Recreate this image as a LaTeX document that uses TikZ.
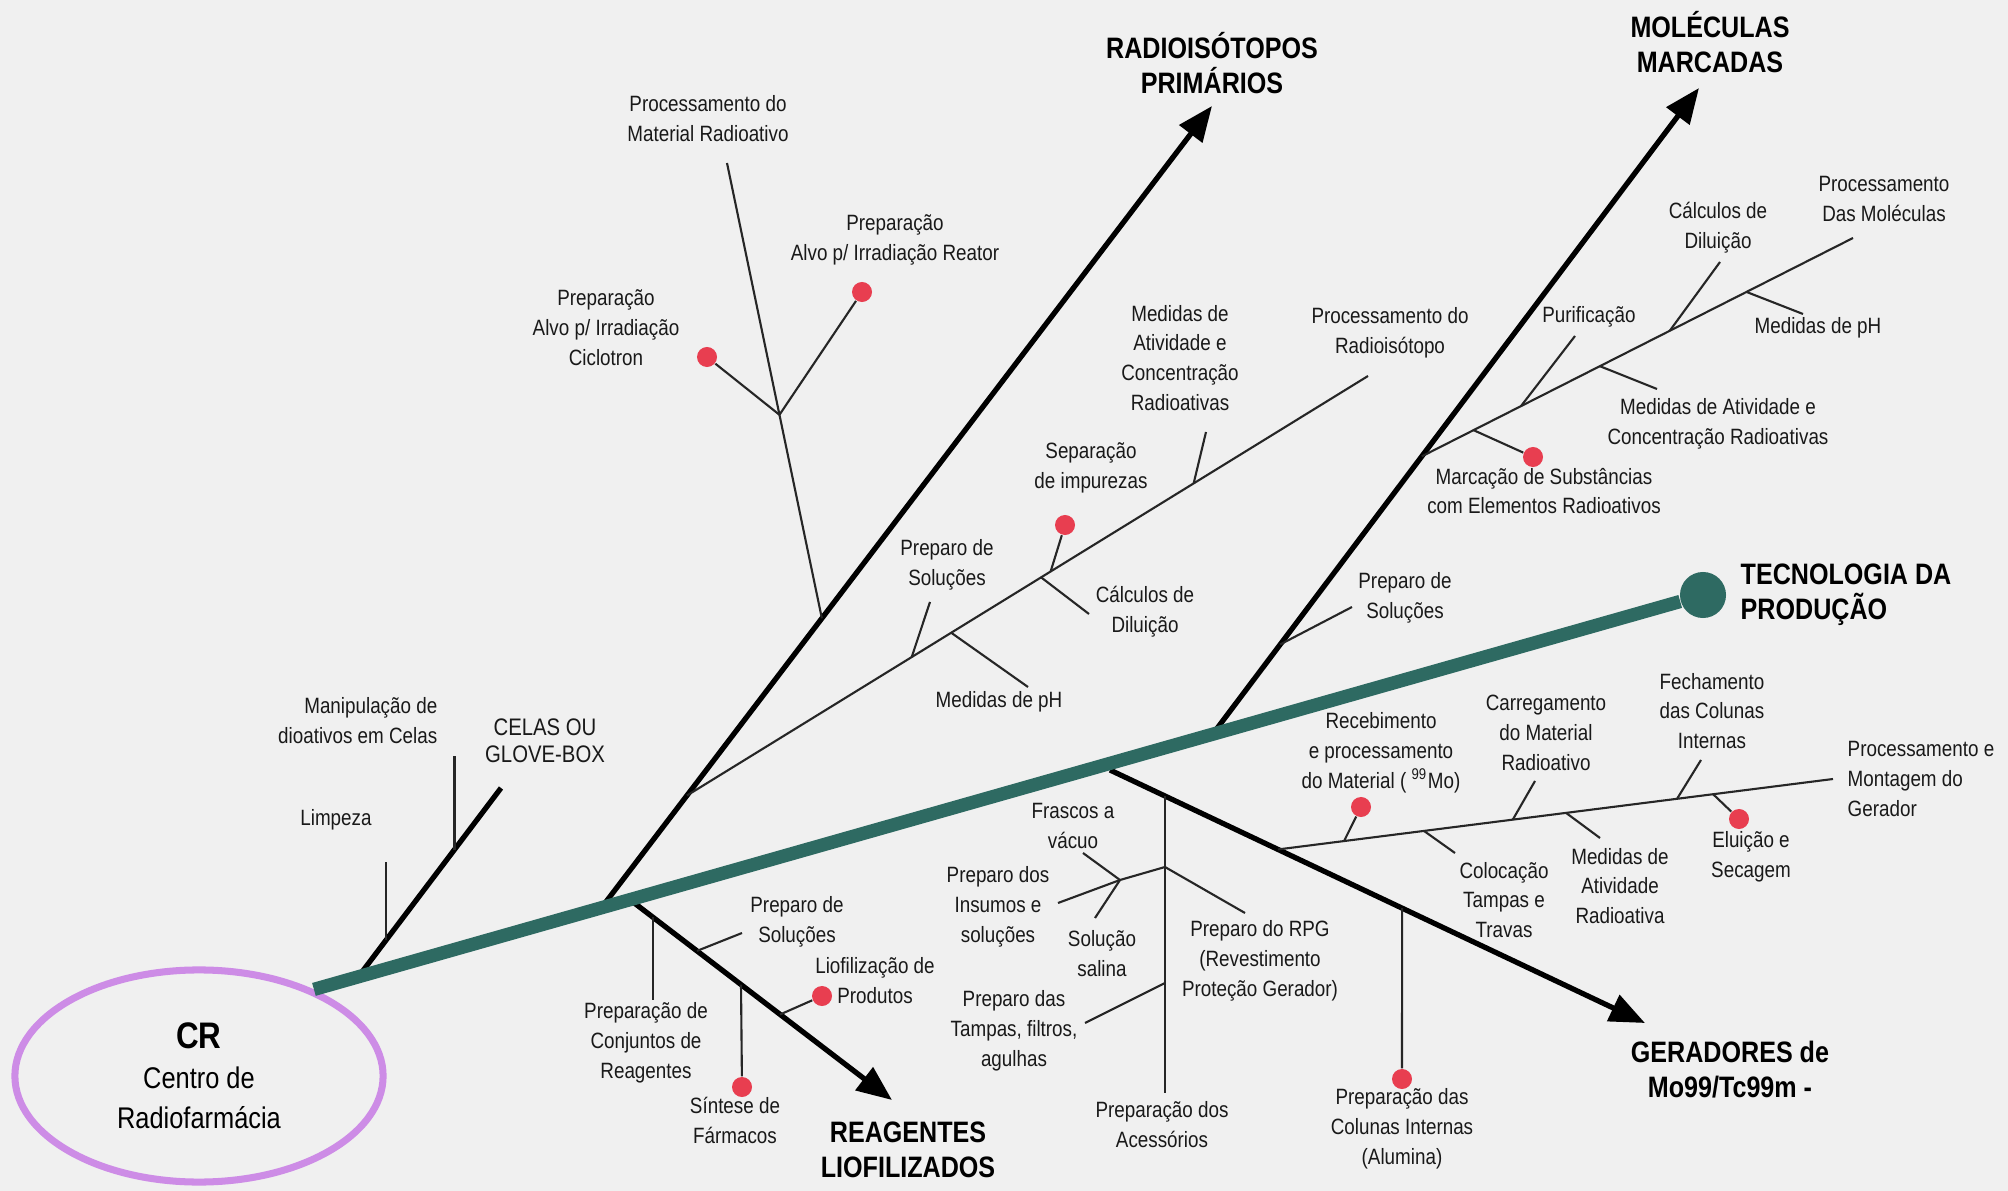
\documentclass[tikz,border=0pt]{standalone}
\usepackage{fontspec}
\setmainfont[FakeStretch=0.85]{Liberation Sans}
\usepackage{tikz}
\usetikzlibrary{arrows.meta,calc,shapes.geometric}

\definecolor{fundo}{RGB}{240,240,240}
\definecolor{espinha}{RGB}{46,106,98}
\definecolor{elipse}{RGB}{205,140,230}
\definecolor{ponto}{RGB}{232,62,80}

\tikzset{
  rotulo/.style={font=\fontsize{6.3}{8.5}\selectfont, align=center, inner sep=0pt, text=black!90},
  titulo/.style={font=\bfseries\fontsize{8.4}{10}\selectfont, align=center, inner sep=0pt},
  fino/.style={line width=0.6pt, black!85},
  ramo/.style={line width=1.5pt},
  seta/.style={line width=1.5pt, -{Triangle[length=10pt,width=8pt]}},
  marca/.style={circle, fill=ponto, inner sep=0pt, minimum size=0.2cm},
}

\begin{document}
\begin{tikzpicture}[x=0.01cm,y=-0.01cm]
\fill[fundo] (0,0) rectangle (2008,1191);
\useasboundingbox (0,0) rectangle (2008,1191);

\node[ellipse, draw=elipse, line width=2pt, minimum width=3.68cm, minimum height=2.12cm, inner sep=0pt, align=center, font=\fontsize{8.5}{11.4}\selectfont] (cr) at (199,1076) {{\bfseries\fontsize{10.5}{11.4}\selectfont CR}\\Centro de\\Radiofarmácia};
\node[circle, fill=espinha, minimum size=0.46cm, inner sep=0pt] (fim) at (1703,595) {};
\coordinate (sp0) at (cr.37);

\coordinate (ce0) at ($(sp0)!0.032!(fim)$);
\coordinate (ri0) at ($(sp0)!0.207!(fim)$);
\coordinate (mm0) at ($(sp0)!0.647!(fim)$);
\coordinate (re0) at (633,902);
\coordinate (ge0) at (1110,770);
\coordinate (cetop) at (501,788);
\coordinate (ritip) at (1212,106);
\coordinate (mmtip) at (1699,88);
\coordinate (retip) at (892,1100);
\coordinate (getip) at (1645,1023);

\node[titulo] (hrad) at (1212,63) {RADIOISÓTOPOS\\PRIMÁRIOS};
\node[titulo] (hmol) at (1710,42) {MOLÉCULAS\\MARCADAS};
\node[titulo, anchor=west, align=left] (htec) at (1740,595) {TECNOLOGIA DA\\PRODUÇÃO};
\node[titulo] (hger) at (1730,1070) {GERADORES de\\Mo99/Tc99m -};
\node[titulo] (hrea) at (908,1150) {REAGENTES\\LIOFILIZADOS};
\node[rotulo, font=\fontsize{6.8}{7.8}\selectfont] (hcel) at (545,741) {CELAS OU\\GLOVE-BOX};

% celas ou glove-box
\draw[ramo] (ce0) -- (cetop);
\coordinate (lim0) at ($(ce0)!0.194!(cetop)$);
\coordinate (limtop) at (385,862);
\coordinate (man0) at ($(ce0)!0.674!(cetop)$);
\coordinate (mantop) at (454,756);
\draw[fino] (lim0) -- (lim0 |- limtop);
\draw[fino] (man0) -- (man0 |- mantop);
\node[rotulo] (lim) at (336,820) {Limpeza};
\node[rotulo, anchor=east, align=right] (man) at (438,721) {Manipulação de\\dioativos em Celas};

% radioisotopos primarios
\draw[seta] (ri0) -- (ritip);
\coordinate (pm0) at ($(ri0)!0.361!(ritip)$);
\coordinate (pmtop) at (727,163);
\coordinate (j1) at ($(pm0)!0.447!(pmtop)$);
\draw[fino] (pm0) -- (pmtop);
\node[marca] (dcic) at (707,357) {};
\node[marca] (drea) at (862,292) {};
\draw[fino] (j1) -- (dcic);
\draw[fino] (j1) -- (drea);
\node[rotulo] (tpm) at (708,119) {Processamento do\\Material Radioativo};
\node[rotulo] (tcic) at (606,328) {Preparação\\Alvo p/ Irradiação\\Ciclotron};
\node[rotulo] (trea) at (895,240) {Preparação\\Alvo p/ Irradiação Reator};

\coordinate (l2a) at ($(ri0)!0.14!(ritip)$);
\coordinate (l2b) at (1368,376);
\draw[fino] (l2a) -- (l2b);
\coordinate (ps0) at ($(l2a)!0.33!(l2b)$);
\coordinate (ps1) at (930,602);
\coordinate (ph0) at ($(l2a)!0.388!(l2b)$);
\coordinate (ph1) at (1028,687);
\coordinate (cd0) at ($(l2a)!0.52!(l2b)$);
\coordinate (cd1) at (1089,614);
\coordinate (si0) at ($(l2a)!0.534!(l2b)$);
\coordinate (ma0) at ($(l2a)!0.744!(l2b)$);
\coordinate (ma1) at (1206,432);
\node[marca] (dsep) at (1065,525) {};
\draw[fino] (ps0) -- (ps1);
\draw[fino] (ph0) -- (ph1);
\draw[fino] (cd0) -- (cd1);
\draw[fino] (si0) -- (dsep);
\draw[fino] (ma0) -- (ma1);
\node[rotulo] (tps) at (947,565) {Preparo de\\Soluções};
\node[rotulo] (tph) at (999,702) {Medidas de pH};
\node[rotulo] (tcd) at (1145,612) {Cálculos de\\Diluição};
\node[rotulo] (tsep) at (1091,468) {Separação\\de impurezas};
\node[rotulo] (tma) at (1180,358) {Medidas de\\Atividade e\\Concentração\\Radioativas};
\node[rotulo] (tl2) at (1390,333) {Processamento do\\Radioisótopo};

% moleculas marcadas
\draw[seta] (mm0) -- (mmtip);
\coordinate (mps0) at ($(mm0)!0.139!(mmtip)$);
\coordinate (mps1) at (1352,607);
\draw[fino] (mps0) -- (mps1);
\node[rotulo] (tmps) at (1405,598) {Preparo de\\Soluções};
\coordinate (l3a) at ($(mm0)!0.43!(mmtip)$);
\coordinate (l3b) at (1853,238);
\draw[fino] (l3a) -- (l3b);
\coordinate (mc0) at ($(l3a)!0.12!(l3b)$);
\coordinate (pu0) at ($(l3a)!0.23!(l3b)$);
\coordinate (pu1) at (1575,336);
\coordinate (mv0) at ($(l3a)!0.413!(l3b)$);
\coordinate (mv1) at (1657,389);
\coordinate (cm0) at ($(l3a)!0.575!(l3b)$);
\coordinate (cm1) at (1720,262);
\coordinate (mh0) at ($(l3a)!0.753!(l3b)$);
\coordinate (mh1) at (1803,314);
\node[marca] (dmar) at (1533,457) {};
\draw[fino] (mc0) -- (dmar);
\draw[fino] (pu0) -- (pu1);
\draw[fino] (mv0) -- (mv1);
\draw[fino] (cm0) -- (cm1);
\draw[fino] (mh0) -- (mh1);
\node[rotulo] (tmar) at (1544,491) {Marcação de Substâncias\\com Elementos Radioativos};
\node[rotulo] (tpu) at (1589,317) {Purificação};
\node[rotulo] (tmv) at (1718,424) {Medidas de Atividade e\\Concentração Radioativas};
\node[rotulo] (tcm) at (1718,228) {Cálculos de\\Diluição};
\node[rotulo] (tmh) at (1818,328) {Medidas de pH};
\node[rotulo] (tl3) at (1884,199) {Processamento\\Das Moléculas};

% geradores
\draw[seta] (ge0) -- (getip);
\coordinate (ac0) at ($(ge0)!0.103!(getip)$);
\coordinate (ac1) at (1165,1093);
\coordinate (j2) at (1165,867);
\coordinate (j3) at (1120,880);
\coordinate (rpg) at (1245,913);
\coordinate (fra) at (1083,853);
\coordinate (ins) at (1058,903);
\coordinate (sal) at (1095,918);
\coordinate (tp0) at (1165,983);
\coordinate (tp1) at (1085,1023);
\draw[fino] (ac0) -- (ac0 |- ac1);
\draw[fino] (j2) -- (rpg);
\draw[fino] (j2) -- (j3);
\draw[fino] (j3) -- (fra);
\draw[fino] (j3) -- (ins);
\draw[fino] (j3) -- (sal);
\draw[fino] (tp0) -- (tp1);
\node[rotulo] (tac) at (1162,1125) {Preparação dos\\Acessórios};
\node[rotulo] (trpg) at (1260,961) {Preparo do RPG\\(Revestimento\\Proteção Gerador)};
\node[rotulo] (tfra) at (1073,826) {Frascos a\\vácuo};
\node[rotulo] (tins) at (998,907) {Preparo dos\\Insumos e\\soluções};
\node[rotulo] (tsal) at (1102,954) {Solução\\salina};
\node[rotulo] (ttp) at (1014,1031) {Preparo das\\Tampas, filtros,\\agulhas};

\coordinate (co0) at ($(ge0)!0.546!(getip)$);
\node[marca] (dcol) at (1402,1079) {};
\draw[fino] (co0) -- (dcol);
\node[rotulo] (tcol) at (1402,1129) {Preparação das\\Colunas Internas\\(Alumina)};

\coordinate (l4a) at ($(ge0)!0.314!(getip)$);
\coordinate (l4b) at (1833,779);
\draw[fino] (l4a) -- (l4b);
\coordinate (rc0) at ($(l4a)!0.119!(l4b)$);
\coordinate (ct0) at ($(l4a)!0.263!(l4b)$);
\coordinate (ct1) at (1455,853);
\coordinate (cg0) at ($(l4a)!0.423!(l4b)$);
\coordinate (cg1) at (1535,781);
\coordinate (mr0) at ($(l4a)!0.519!(l4b)$);
\coordinate (mr1) at (1600,838);
\coordinate (fc0) at ($(l4a)!0.719!(l4b)$);
\coordinate (fc1) at (1701,760);
\coordinate (el0) at ($(l4a)!0.784!(l4b)$);
\node[marca] (drec) at (1361,807) {};
\node[marca] (delu) at (1739,819) {};
\draw[fino] (rc0) -- (drec);
\draw[fino] (ct0) -- (ct1);
\draw[fino] (cg0) -- (cg1);
\draw[fino] (mr0) -- (mr1);
\draw[fino] (fc0) -- (fc1);
\draw[fino] (el0) -- (delu);
\node[rotulo] (trec) at (1381,753) {Recebimento\\e processamento\\do Material ( \textsuperscript{99}Mo)};
\node[rotulo] (tcg) at (1546,733) {Carregamento\\do Material\\Radioativo};
\node[rotulo] (tfc) at (1712,711) {Fechamento\\das Colunas\\Internas};
\node[rotulo, anchor=west, align=left] (tl4) at (1847,779) {Processamento e\\Montagem do\\Gerador};
\node[rotulo] (tct) at (1504,900) {Colocação\\Tampas e\\Travas};
\node[rotulo] (tmr) at (1620,886) {Medidas de\\Atividade\\Radioativa};
\node[rotulo] (telu) at (1751,857) {Eluição e\\Secagem};

% reagentes liofilizados
\draw[seta] (re0) -- (retip);
\coordinate (pc0) at ($(re0)!0.077!(retip)$);
\coordinate (pc1) at (653,1000);
\coordinate (rs0) at ($(re0)!0.247!(retip)$);
\coordinate (rs1) at (742,933);
\coordinate (sf0) at ($(re0)!0.417!(retip)$);
\coordinate (lf0) at ($(re0)!0.568!(retip)$);
\node[marca] (dsin) at (742,1087) {};
\node[marca] (dlio) at (822,996) {};
\draw[fino] (pc0) -- (pc0 |- pc1);
\draw[fino] (rs0) -- (rs1);
\draw[fino] (sf0) -- (dsin);
\draw[fino] (lf0) -- (dlio);
\node[rotulo] (tpc) at (646,1043) {Preparação de\\Conjuntos de\\Reagentes};
\node[rotulo] (trs) at (797,922) {Preparo de\\Soluções};
\node[rotulo] (tsin) at (735,1120) {Síntese de\\Fármacos};
\node[rotulo] (tlio) at (875,981) {Liofilização de\\Produtos};

% espinha
\draw[espinha, line width=3.8pt] (sp0) -- (fim);
\end{tikzpicture}
\end{document}
